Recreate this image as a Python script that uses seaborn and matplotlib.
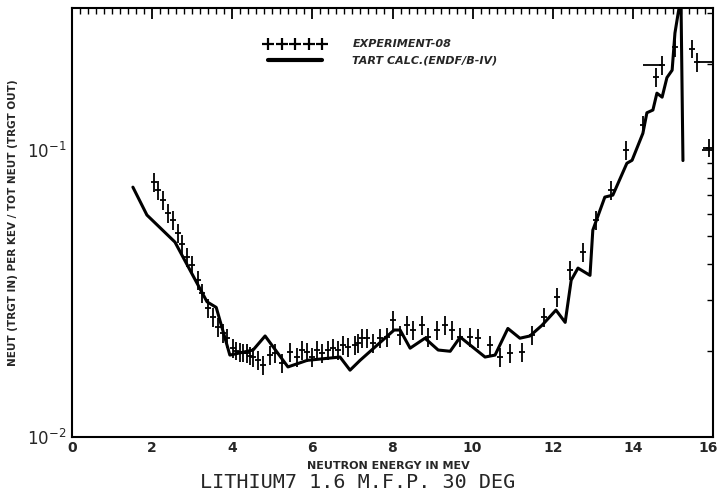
import numpy as np
import pandas as pd
import matplotlib
matplotlib.use("Agg")
import matplotlib.pyplot as plt
import matplotlib.transforms as mtransforms
import seaborn as sns
from matplotlib.lines import Line2D
from matplotlib.ticker import MultipleLocator, LogLocator, NullFormatter, FixedLocator, FixedFormatter

# ---- data -------------------------------------------------------------
calc_energy = [1.52, 1.87, 2.57, 3.37, 3.60, 3.94, 4.52, 4.82, 5.39, 5.87, 6.69, 6.94,
               7.19, 8.04, 8.19, 8.44, 8.81, 9.14, 9.44, 9.69, 10.31, 10.56, 10.88, 11.18,
               11.43, 11.73, 12.08, 12.31, 12.46, 12.63, 12.93, 13.00, 13.30, 13.50, 13.85,
               13.98, 14.25, 14.35, 14.50, 14.60, 14.73, 14.85, 14.98, 15.05, 15.13, 15.20, 15.25]
calc_value = [0.0743, 0.0594, 0.0478, 0.0296, 0.0283, 0.0193, 0.0201, 0.0225, 0.01755, 0.0185,
              0.0190, 0.0171, 0.0185, 0.0236, 0.0236, 0.0204, 0.0221, 0.0201, 0.0199, 0.0223,
              0.0190, 0.0193, 0.0239, 0.0221, 0.0225, 0.0245, 0.0277, 0.0251, 0.0352, 0.0388,
              0.0366, 0.0526, 0.0686, 0.0697, 0.0900, 0.0922, 0.1145, 0.1350, 0.1380, 0.1580,
              0.1530, 0.1790, 0.1900, 0.2560, 0.3000, 0.3400, 0.0920]

exp_energy = [2.05, 2.15, 2.27, 2.40, 2.52, 2.65, 2.75, 2.88, 3.00, 3.15, 3.25, 3.39, 3.52,
              3.64, 3.77, 3.87, 4.02, 4.10, 4.19, 4.28, 4.37, 4.45, 4.52, 4.64, 4.77, 4.94,
              5.07, 5.24, 5.44, 5.62, 5.74, 5.87, 5.99, 6.12, 6.24, 6.39, 6.52, 6.64, 6.77,
              6.89, 7.06, 7.14, 7.24, 7.36, 7.51, 7.69, 7.86, 8.01, 8.19, 8.36, 8.51, 8.74,
              8.89, 9.11, 9.31, 9.49, 9.69, 9.94, 10.13, 10.43, 10.69, 10.94, 11.23, 11.48,
              11.78, 12.11, 12.43, 12.76, 13.08, 13.45, 13.83, 14.25, 14.58, 14.73, 15.05,
              15.48, 15.60, 15.90]
exp_value = [0.0773, 0.0725, 0.0670, 0.0603, 0.0570, 0.0514, 0.0470, 0.0424, 0.0397, 0.0352,
             0.0318, 0.0282, 0.0262, 0.0242, 0.0230, 0.0221, 0.0204, 0.0200, 0.0198, 0.0197,
             0.0196, 0.0192, 0.0190, 0.01855, 0.0178, 0.0193, 0.0196, 0.0181, 0.0198, 0.0190,
             0.0201, 0.0198, 0.0190, 0.0201, 0.0196, 0.0201, 0.0204, 0.0201, 0.0209, 0.0206,
             0.0209, 0.0213, 0.0221, 0.0221, 0.0213, 0.0221, 0.0223, 0.0256, 0.0227, 0.0246,
             0.0236, 0.0246, 0.0223, 0.0236, 0.0246, 0.0236, 0.0223, 0.0223, 0.0221, 0.0209,
             0.0190, 0.0196, 0.0198, 0.0227, 0.0262, 0.0307, 0.0382, 0.0441, 0.0570, 0.0725,
             0.1000, 0.1220, 0.1800, 0.1980, 0.2280, 0.2260, 0.2030, 0.1020]
exp_xerr_lo = [0.0] * 73 + [0.48, 0.0, 0.0, 0.0, 0.15]
exp_xerr_hi = [0.0] * 73 + [0.0, 0.0, 0.0, 0.40, 0.0]
rel_err = 0.075

calc = pd.DataFrame({"energy": calc_energy, "value": calc_value})
exp = pd.DataFrame({"energy": exp_energy, "value": exp_value})

# ---- figure -----------------------------------------------------------
sns.set_theme(style="white")
plt.rcParams["font.family"] = ["DejaVu Sans"]

fig = plt.figure(figsize=(7.19, 4.99), dpi=100)
ax = fig.add_axes([72 / 719, 1 - 437 / 499, 641 / 719, 429 / 499])

sns.lineplot(data=calc, x="energy", y="value", ax=ax, color="black", lw=2.2,
             sort=False, estimator=None)
yv = np.array(exp_value)
ax.errorbar(exp["energy"], exp["value"],
            yerr=[yv * rel_err, yv * rel_err],
            xerr=[exp_xerr_lo, exp_xerr_hi],
            fmt="_", ms=5, mew=1.3, color="black", ecolor="black", elinewidth=1.3,
            capsize=0)

ax.set_yscale("log")
ax.set_xlim(0, 16)
ax.set_ylim(0.01, 0.313)

ax.xaxis.set_major_locator(MultipleLocator(2))
ax.xaxis.set_minor_locator(MultipleLocator(0.2))
ax.yaxis.set_major_locator(FixedLocator([0.01, 0.1]))
ax.yaxis.set_major_formatter(FixedFormatter([r"10$^{-2}$", r"10$^{-1}$"]))
ax.yaxis.set_minor_locator(LogLocator(base=10, subs=np.arange(2, 10)))
ax.yaxis.set_minor_formatter(NullFormatter())

ax.tick_params(which="both", direction="in", top=True, right=True, color="black")
ax.tick_params(which="major", length=8, width=1.3)
ax.tick_params(which="minor", length=4, width=1.0)
ax.tick_params(axis="x", which="major", labelsize=10, pad=3)
ax.tick_params(axis="y", which="major", labelsize=12, pad=4)

fig.canvas.draw()
xlabels = ax.get_xticklabels()
for lab in xlabels:
    lab.set_fontweight("bold")
# nudge the last label ("16") slightly inward so it stays on the canvas
shift = mtransforms.ScaledTranslation(-5 / 100, 0, fig.dpi_scale_trans)
for lab in xlabels:
    if lab.get_text() == "16":
        lab.set_transform(lab.get_transform() + shift)

for s in ax.spines.values():
    s.set_color("black")
    s.set_linewidth(1.5)

ax.set_xlabel("NEUTRON ENERGY IN MEV", fontsize=8, fontweight="bold", labelpad=0)
ax.xaxis.set_label_coords(0.493, -0.055)
ax.set_ylabel("NEUT (TRGT IN) PER KEV / TOT NEUT (TRGT OUT)", fontsize=7.5,
              fontweight="bold", labelpad=0)
ax.yaxis.set_label_coords(-0.084, 0.5)

handles = [Line2D([], [], ls="none", marker="+", ms=8, mew=1.6, color="black"),
           Line2D([], [], lw=3, color="black")]
leg = ax.legend(handles, ["EXPERIMENT-08", "TART CALC.(ENDF/B-IV)"], numpoints=5,
                handlelength=5.5, frameon=False, loc="upper left",
                bbox_to_anchor=(0.285, 0.95), labelspacing=0.55, handletextpad=2.4,
                prop={"size": 8, "weight": "bold", "style": "italic"})

fig.text(0.497, 0.034, "LITHIUM7 1.6 M.F.P. 30 DEG", ha="center", va="center",
         fontsize=14.5, family="DejaVu Sans Mono")

fig.savefig("out.png", dpi=100)
